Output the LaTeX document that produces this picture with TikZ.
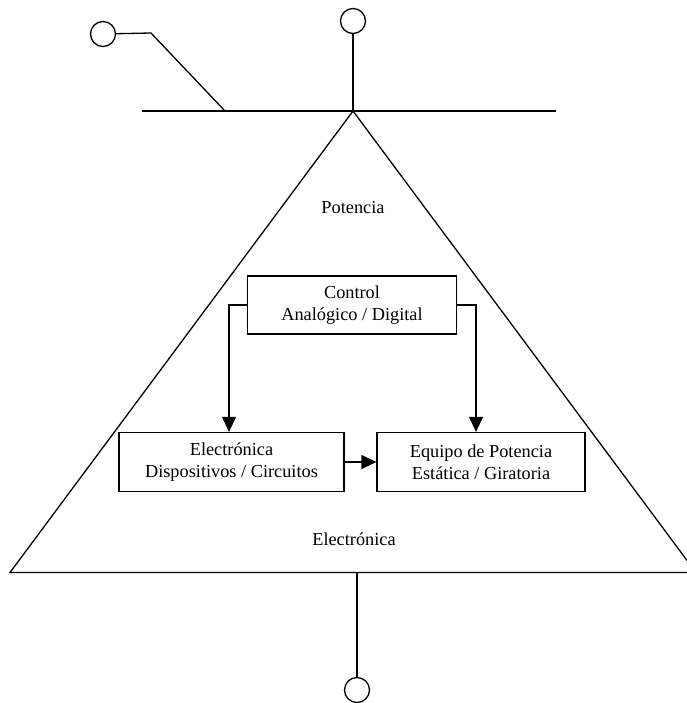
\documentclass[tikz,border=0pt]{standalone}
\usepackage{fontspec}
\setmainfont{Liberation Serif}
\usetikzlibrary{arrows.meta}
\begin{document}
\begin{tikzpicture}[x=1pt,y=-1pt,
    bloque/.style ={rectangle, draw, line width=1.3pt, align=center, inner sep=0pt,
                    font=\fontsize{18.3}{21.5}\selectfont,
                    execute at begin node={\rule{0pt}{21pt}}},
    terminal/.style ={circle, draw, line width=1.3pt, minimum size=25pt, inner sep=0pt},
    etiqueta/.style ={anchor=base, font=\fontsize{18.3}{21.5}\selectfont},
    linea/.style ={line width=1.3pt},
    flecha/.style ={line width=1.3pt, -{Triangle[length=15pt,width=14pt]}}]
   \useasboundingbox (0,0) rectangle (686,703);

   \node[terminal] (T1) at (103,34)  {};
   \node[terminal] (T2) at (353,21)  {};
   \node[terminal] (T3) at (357,690) {};

   \coordinate (codo) at (151,33);
   \coordinate (toma) at (225,111);
   \coordinate (izq) at (142,111);
   \coordinate (der) at (556,111);
   \coordinate (vertice) at (353,111);
   \coordinate (baseA) at (10,572.5);
   \coordinate (baseB) at (696,572.5);
   \coordinate (salida) at (357,572.5);

   \node[bloque, minimum width=209pt, minimum height=58pt] (control) at (352,305)
        {Control\\Analógico / Digital};
   \node[bloque, minimum width=225pt, minimum height=59pt] (electronica) at (231.5,462)
        {Electrónica\\Dispositivos / Circuitos};
   \node[bloque, minimum width=208pt, minimum height=59pt] (equipo) at (481,462)
        {Equipo de Potencia\\Estática / Giratoria};

   \node[etiqueta] (potencia) at (353,214) {Potencia};
   \node[etiqueta] (electr) at (354,545) {Electrónica};

   \draw[linea] (izq) to (der);
   \draw[linea] (T1) to (codo) to (toma);
   \draw[linea] (T2) to (vertice);
   \draw[linea] (vertice) to (baseA) to (baseB) to (vertice);
   \draw[linea] (salida) to (T3);

   \draw[flecha] (control.west) -| ([xshift=-2.5pt]electronica.north);
   \draw[flecha] (control.east) -| ([xshift=-5pt]equipo.north);
   \draw[flecha] (electronica.east) to (equipo.west);
 \end{tikzpicture}
\end{document}
